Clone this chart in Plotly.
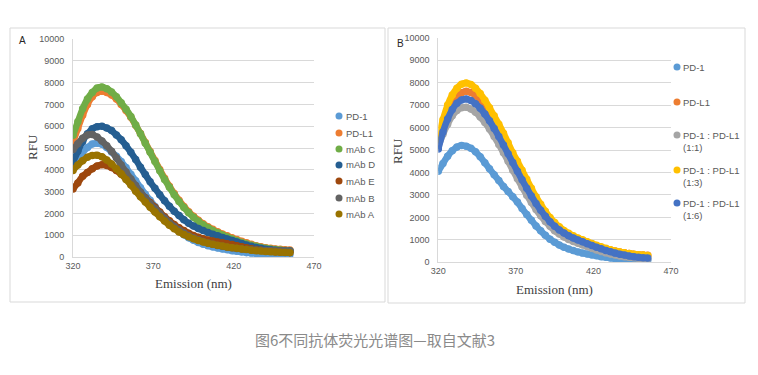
import plotly.graph_objects as go

# ---------------- data ----------------
WAVELENGTH = [320, 323, 326, 329, 332, 335, 338, 341, 344, 347,
              350, 353, 356, 359, 362, 365, 368, 371, 374, 377,
              380, 383, 386, 389, 392, 395, 398, 401, 404, 407,
              410, 413, 416, 419, 422, 425, 428, 431, 434, 437,
              440, 443, 446, 449, 452, 455]

# Panel A
A_PD1 = [4270, 4550, 4800, 5020, 5180, 5220, 5170, 5020, 4820, 4620,
         4380, 4100, 3800, 3500, 3180, 2880, 2600, 2320, 2050, 1800,
         1570, 1360, 1180, 1020, 880, 770, 670, 590, 520, 460,
         410, 370, 330, 290, 260, 230, 200, 180, 160, 150,
         140, 130, 120, 120, 110, 110]
A_PDL1 = [5250, 5900, 6500, 7000, 7350, 7550, 7600, 7550, 7430, 7250,
          7000, 6720, 6410, 6040, 5660, 5250, 4840, 4430, 4010, 3610,
          3250, 2910, 2600, 2320, 2080, 1870, 1690, 1530, 1390, 1270,
          1160, 1060, 970, 880, 800, 720, 650, 580, 520, 470,
          430, 400, 370, 350, 330, 320]
A_MABC = [5580, 6200, 6800, 7250, 7550, 7750, 7800, 7720, 7570, 7350,
          7080, 6780, 6450, 6050, 5650, 5220, 4800, 4380, 3960, 3560,
          3200, 2860, 2550, 2270, 2030, 1820, 1640, 1480, 1340, 1220,
          1110, 1010, 920, 830, 750, 670, 600, 540, 490, 440,
          400, 370, 340, 320, 300, 290]
A_MABD = [4350, 4850, 5300, 5650, 5880, 5980, 6000, 5920, 5800, 5600,
          5380, 5100, 4800, 4470, 4120, 3780, 3450, 3150, 2860, 2580,
          2330, 2100, 1900, 1710, 1550, 1420, 1310, 1210, 1120, 1040,
          970, 900, 830, 760, 690, 620, 550, 490, 440, 400,
          360, 330, 310, 290, 280, 270]
A_MABE = [3120, 3400, 3700, 3880, 4050, 4180, 4230, 4200, 4100, 3970,
          3800, 3600, 3380, 3170, 2950, 2720, 2500, 2280, 2060, 1850,
          1660, 1490, 1340, 1210, 1090, 990, 910, 840, 780, 730,
          690, 650, 610, 570, 520, 470, 420, 380, 340, 310,
          280, 260, 240, 230, 220, 210]
A_MABB = [4930, 5200, 5450, 5600, 5620, 5500, 5320, 5100, 4850, 4550,
          4220, 3900, 3580, 3280, 2980, 2700, 2450, 2220, 2000, 1780,
          1580, 1400, 1240, 1100, 980, 880, 790, 710, 640, 580,
          530, 490, 450, 420, 390, 370, 350, 330, 320, 310,
          300, 300, 290, 290, 280, 280]
A_MABA = [3970, 4220, 4420, 4580, 4660, 4670, 4600, 4450, 4270, 4050,
          3820, 3560, 3300, 3020, 2760, 2520, 2280, 2060, 1850, 1650,
          1460, 1300, 1150, 1030, 930, 840, 760, 690, 630, 580,
          540, 500, 460, 430, 400, 370, 340, 310, 290, 270,
          250, 240, 230, 220, 210, 200]

# Panel B
B_PD1 = [4050, 4400, 4720, 4970, 5130, 5200, 5170, 5080, 4920, 4700,
         4430, 4160, 3900, 3640, 3380, 3150, 2920, 2680, 2400, 2130,
         1870, 1620, 1400, 1200, 1030, 890, 770, 670, 590, 520,
         460, 410, 370, 330, 290, 250, 220, 190, 160, 140,
         130, 120, 110, 100, 100, 90]
B_PDL1 = [5300, 5950, 6550, 7020, 7350, 7550, 7620, 7560, 7420, 7200,
          6920, 6600, 6240, 5860, 5460, 5050, 4640, 4240, 3850, 3470,
          3100, 2760, 2450, 2170, 1920, 1710, 1530, 1370, 1240, 1130,
          1040, 960, 880, 800, 730, 660, 600, 550, 500, 460,
          420, 390, 360, 340, 320, 310]
B_MIX_1_1 = [5150, 5700, 6150, 6520, 6760, 6880, 6900, 6820, 6680, 6470,
             6220, 5930, 5600, 5250, 4880, 4500, 4100, 3720, 3350, 2990,
             2660, 2350, 2070, 1820, 1600, 1410, 1260, 1130, 1020, 930,
             850, 770, 700, 620, 550, 480, 420, 370, 320, 280,
             250, 220, 200, 180, 170, 160]
B_MIX_1_3 = [5500, 6350, 7000, 7450, 7750, 7930, 7980, 7920, 7750, 7520,
             7220, 6880, 6520, 6150, 5750, 5320, 4880, 4500, 4100, 3700,
             3300, 2920, 2580, 2270, 2000, 1770, 1580, 1420, 1290, 1180,
             1080, 1000, 920, 840, 760, 690, 620, 560, 500, 460,
             420, 390, 360, 340, 320, 300]
B_MIX_1_6 = [5050, 5800, 6380, 6800, 7080, 7230, 7270, 7200, 7060, 6860,
             6600, 6300, 5960, 5600, 5220, 4830, 4440, 4050, 3670, 3300,
             2950, 2620, 2320, 2050, 1810, 1610, 1440, 1300, 1180, 1080,
             990, 910, 830, 750, 670, 600, 530, 470, 410, 360,
             320, 280, 250, 220, 200, 190]

A_NAMES = ["PD-1", "PD-L1", "mAb C", "mAb D", "mAb E", "mAb B", "mAb A"]
B_NAMES = ["PD-1", "PD-L1", "PD-1 : PD-L1<br>(1:1)", "PD-1 : PD-L1<br>(1:3)", "PD-1 : PD-L1<br>(1:6)"]
X_TICKS = [320, 370, 420, 470]

A_SERIES = [A_PD1, A_PDL1, A_MABC, A_MABD, A_MABE, A_MABB, A_MABA]
B_SERIES = [B_PD1, B_PDL1, B_MIX_1_1, B_MIX_1_3, B_MIX_1_6]

A_COLORS = ["#5B9BD5", "#ED7D31", "#70AD47", "#255E91", "#9E480E", "#636363", "#997300"]
B_COLORS = ["#5B9BD5", "#ED7D31", "#A5A5A5", "#FFC000", "#4472C4"]

# ---------------- layout helpers ----------------
W, H = 758, 375
def fx(p):
    return p / W
def fy(p):
    return 1 - p / H

TICK_COLOR = "#595959"
GRID = "#D9D9D9"
MS = 7.5
LW = 6.5

fig = go.Figure()
for ys, col, nm in zip(A_SERIES, A_COLORS, A_NAMES):
    fig.add_trace(go.Scatter(x=WAVELENGTH, y=ys, mode="lines+markers", name=nm,
                             line=dict(color=col, width=LW, shape="spline", smoothing=0.6),
                             marker=dict(size=MS, color=col, line=dict(width=0)),
                             xaxis="x", yaxis="y", showlegend=False, hoverinfo="skip"))
for ys, col, nm in zip(B_SERIES, B_COLORS, B_NAMES):
    fig.add_trace(go.Scatter(x=WAVELENGTH, y=ys, mode="lines+markers", name=nm,
                             line=dict(color=col, width=LW, shape="spline", smoothing=0.6),
                             marker=dict(size=MS, color=col, line=dict(width=0)),
                             xaxis="x2", yaxis="y2", showlegend=False, hoverinfo="skip"))

def xax(domain, anchor):
    return dict(domain=domain, anchor=anchor, range=[320, 470], tickvals=X_TICKS,
                showgrid=False, zeroline=False, showline=True, linecolor=GRID, linewidth=1,
                ticks="", automargin=False,
                tickfont=dict(family="Liberation Sans", size=9, color=TICK_COLOR),
                fixedrange=True)

def yax(domain, anchor):
    return dict(domain=domain, anchor=anchor, range=[0, 10000], dtick=1000, tick0=0,
                tickformat="d", showgrid=True, gridcolor=GRID, gridwidth=1,
                zeroline=False, showline=True, linecolor=GRID, linewidth=1,
                ticks="", ticklabelstandoff=6, automargin=False,
                tickfont=dict(family="Liberation Sans", size=9, color=TICK_COLOR),
                fixedrange=True)

shapes = [
    dict(type="rect", xref="paper", yref="paper", x0=fx(10), x1=fx(385), y0=fy(302), y1=fy(28),
         line=dict(color=GRID, width=1)),
    dict(type="rect", xref="paper", yref="paper", x0=fx(388), x1=fx(745), y0=fy(303), y1=fy(28),
         line=dict(color=GRID, width=1)),
]

annotations = []
LEG_FONT = dict(family="Liberation Sans", size=9.5, color=TICK_COLOR)

# legend A
a_rows = [116, 133, 149, 165, 181, 198, 214]
for nm, col, yy in zip(A_NAMES, A_COLORS, a_rows):
    r = 3.5
    shapes.append(dict(type="circle", xref="paper", yref="paper",
                       x0=fx(339 - r), x1=fx(339 + r), y0=fy(yy + r), y1=fy(yy - r),
                       fillcolor=col, line=dict(width=0)))
    annotations.append(dict(text=nm, xref="paper", yref="paper", x=fx(344), y=fy(yy),
                            xanchor="left", yanchor="middle", showarrow=False, font=LEG_FONT))

# legend B
b_rows = [67, 102, 135, 170, 203]
for nm, col, yy in zip(B_NAMES, B_COLORS, b_rows):
    r = 3.5
    shapes.append(dict(type="circle", xref="paper", yref="paper",
                       x0=fx(677 - r), x1=fx(677 + r), y0=fy(yy + r), y1=fy(yy - r),
                       fillcolor=col, line=dict(width=0)))
    annotations.append(dict(text=nm, xref="paper", yref="paper", x=fx(681), y=fy(yy - 7),
                            xanchor="left", yanchor="top", align="left", showarrow=False,
                            font=LEG_FONT))

TITLE_FONT = dict(family="Liberation Serif", size=13, color="#404040")
annotations += [
    dict(text="Emission (nm)", xref="paper", yref="paper", x=fx(193), y=fy(283),
         xanchor="center", yanchor="middle", showarrow=False, font=TITLE_FONT),
    dict(text="Emission (nm)", xref="paper", yref="paper", x=fx(554), y=fy(289),
         xanchor="center", yanchor="middle", showarrow=False, font=TITLE_FONT),
    dict(text="RFU", xref="paper", yref="paper", x=fx(32), y=fy(147), textangle=-90,
         xanchor="center", yanchor="middle", showarrow=False, font=TITLE_FONT),
    dict(text="RFU", xref="paper", yref="paper", x=fx(397), y=fy(151), textangle=-90,
         xanchor="center", yanchor="middle", showarrow=False, font=TITLE_FONT),
    dict(text="A", xref="paper", yref="paper", x=fx(22), y=fy(41),
         xanchor="center", yanchor="middle", showarrow=False,
         font=dict(family="Liberation Sans", size=10, color="#262626")),
    dict(text="B", xref="paper", yref="paper", x=fx(400), y=fy(44),
         xanchor="center", yanchor="middle", showarrow=False,
         font=dict(family="Liberation Sans", size=10, color="#262626")),
    dict(text="图6不同抗体荧光光谱图—取自文献3", xref="paper", yref="paper", x=fx(375), y=fy(339),
         xanchor="center", yanchor="middle", showarrow=False,
         font=dict(family="Noto Sans CJK SC", size=15, color="#8A8A8A")),
]

fig.update_layout(
    template="none",
    width=W, height=H,
    autosize=False,
    margin=dict(l=0, r=0, t=0, b=0, pad=0, autoexpand=False),
    paper_bgcolor="white", plot_bgcolor="white",
    xaxis=xax([fx(73), fx(314)], "y"),
    yaxis=yax([fy(257), fy(39)], "x"),
    xaxis2=xax([fx(438.3), fx(671)], "y2"),
    yaxis2=yax([fy(262.3), fy(37.7)], "x2"),
    shapes=shapes,
    annotations=annotations,
    showlegend=False,
)

POST = ("var d=document.documentElement,b=document.body;"
        "d.style.margin='0';d.style.padding='0';d.style.overflow='hidden';"
        "b.style.margin='0';b.style.padding='0';b.style.overflow='hidden';")

fig.write_html("out.html", config={"displayModeBar": False, "responsive": False},
               post_script=POST)
